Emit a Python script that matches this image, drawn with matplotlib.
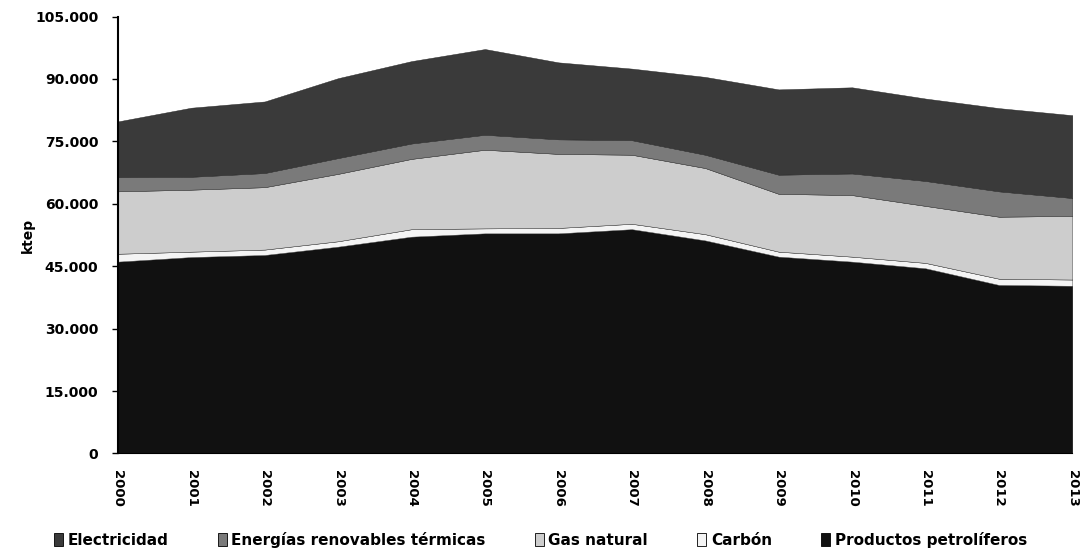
import numpy as np
import matplotlib
matplotlib.use("Agg")
from matplotlib import pyplot as plt
from matplotlib.patches import Patch

# datos (ktep)
years = list(range(2000, 2014))
petroliferos = [46100, 47200, 47700, 49700, 52100, 52900, 52900, 53900, 51200, 47300, 46100, 44500, 40500, 40300]
carbon = [1900, 1300, 1300, 1300, 1800, 1200, 1300, 1300, 1500, 1200, 1200, 1300, 1500, 1500]
gas_natural = [15000, 14900, 15000, 16200, 16900, 18900, 17800, 16600, 15900, 13900, 14800, 13700, 14900, 15300]
renovables = [3400, 3100, 3400, 3800, 3700, 3600, 3500, 3500, 3200, 4600, 5200, 6000, 6100, 4300]
electricidad = [13400, 16600, 17200, 19200, 19800, 20600, 18500, 17200, 18700, 20500, 20700, 19800, 20000, 19900]

labels = ["Productos petrolíferos", "Carbón", "Gas natural",
          "Energías renovables térmicas", "Electricidad"]
colores = ["#111111", "#f4f4f4", "#cdcdcd", "#7a7a7a", "#3a3a3a"]

fig = plt.figure(figsize=(10.81, 5.53), dpi=100)
ax = fig.add_axes([0.109, 0.180, 0.883, 0.790])

ax.stackplot(years, petroliferos, carbon, gas_natural, renovables, electricidad,
             colors=colores, edgecolor="#222222", linewidth=0.3)

ax.set_xlim(2000, 2013)
ax.set_ylim(0, 105000)
ax.set_xticks(years)
ax.set_xticklabels([str(y) for y in years], rotation=270, fontsize=9.5, fontweight="bold")
yt = np.arange(0, 105001, 15000)
ax.set_yticks(yt)
ax.set_yticklabels([f"{v:,}".replace(",", ".") for v in yt], fontsize=10, fontweight="bold")
ax.tick_params(axis="x", length=0, pad=12)
ax.tick_params(axis="y", length=4, width=1, direction="out", pad=10)
ax.set_ylabel("ktep", fontsize=10, fontweight="bold", labelpad=0)

for s in ["top", "right"]:
    ax.spines[s].set_visible(False)
ax.spines["left"].set_linewidth(1.5)
ax.spines["bottom"].set_linewidth(0.8)

# leyenda en orden inverso (de arriba a abajo)
handles = [Patch(facecolor=colores[i], edgecolor="black", linewidth=0.6) for i in range(4, -1, -1)]
fig.legend(handles, labels[::-1], loc="lower center", bbox_to_anchor=(0.5, -0.015),
           ncol=5, frameon=False, handlelength=0.6, handleheight=0.9, handletextpad=0.3,
           columnspacing=3.2, prop={"weight": "bold", "size": 11})

fig.savefig("out.png", dpi=100)
